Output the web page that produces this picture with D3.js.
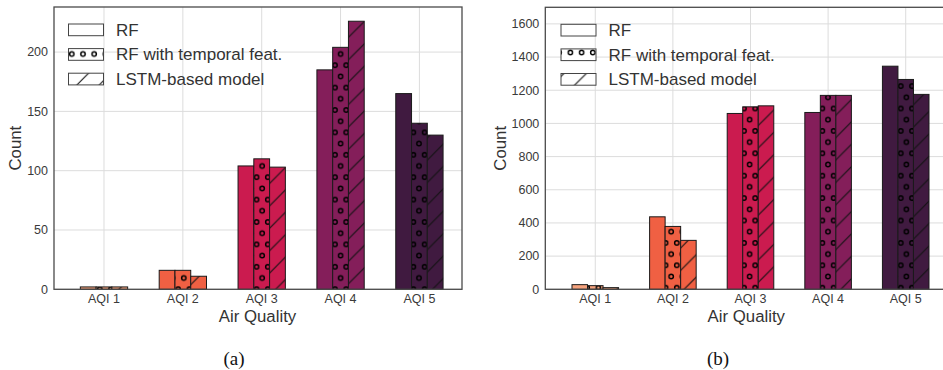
<!DOCTYPE html>
<html>
<head>
<meta charset="utf-8">
<script src="https://cdn.jsdelivr.net/npm/d3@7"></script>
<style>
  html, body { margin: 0; padding: 0; background: #fff; }
  svg { display: block; }
</style>
</head>
<body>
<svg id="chart" width="943" height="370"></svg>
<script>
// ---------------- data ----------------
const categories = ["AQI 1", "AQI 2", "AQI 3", "AQI 4", "AQI 5"];
const seriesNames = ["RF", "RF with temporal feat.", "LSTM-based model"];
const categoryColors = ["#f5a27d", "#f06043", "#cb1b4f", "#841e5a", "#401a40"];

// panel (a)
const aRF       = [2, 16, 104, 185, 165];
const aTemporal = [2, 16, 110, 204, 140];
const aLSTM     = [2, 11, 103, 226, 130];
const aTicks    = [0, 50, 100, 150, 200];

// panel (b)
const bRF       = [28, 437, 1060, 1066, 1345];
const bTemporal = [22, 379, 1100, 1169, 1265];
const bLSTM     = [10, 295, 1106, 1169, 1175];
const bTicks    = [0, 200, 400, 600, 800, 1000, 1200, 1400, 1600];

const xLabel = "Air Quality";
const yLabel = "Count";
const captions = ["(a)", "(b)"];

// ---------------- drawing ----------------
const svg = d3.select("#chart");
const defs = svg.append("defs");
const FONT = "'Liberation Sans', Arial, sans-serif";

function makePatterns(id, dotX, dotY, lineY) {
  const w = 11.2, h = 22.4;
  const dots = defs.append("pattern")
    .attr("id", "dots-" + id).attr("patternUnits", "userSpaceOnUse")
    .attr("x", dotX).attr("y", dotY).attr("width", w).attr("height", h);
  [[0,0],[w,0],[0,h],[w,h],[w/2,h/2]].forEach(([cx, cy]) => {
    dots.append("circle").attr("cx", cx).attr("cy", cy).attr("r", 2.2)
      .attr("fill", "none").attr("stroke", "#000").attr("stroke-width", 1.45);
  });
  const L = 22.4;
  const lines = defs.append("pattern")
    .attr("id", "lines-" + id).attr("patternUnits", "userSpaceOnUse")
    .attr("x", 0).attr("y", lineY).attr("width", L).attr("height", L);
  [[[0, L], [L, 0]], [[-2, 2], [2, -2]], [[L-2, L+2], [L+2, L-2]]].forEach(([p, q]) => {
    lines.append("line").attr("x1", p[0]).attr("y1", p[1]).attr("x2", q[0]).attr("y2", q[1])
      .attr("stroke", "#111").attr("stroke-width", 1.1);
  });
}

function drawPanel(cfg) {
  const g = svg.append("g");
  const x = d3.scaleLinear().domain(cfg.xDomain).range([cfg.left, cfg.right]);
  const y = d3.scaleLinear().domain([0, cfg.yMax]).range([cfg.bottom, cfg.top]);
  const idx = d3.range(categories.length);

  // grid
  const grid = g.append("g");
  grid.selectAll("line.h").data(cfg.ticks).join("line")
    .attr("x1", cfg.left).attr("x2", cfg.right)
    .attr("y1", d => y(d)).attr("y2", d => y(d))
    .attr("stroke", "#dcdcdc").attr("stroke-width", 1);
  grid.selectAll("line.v").data(idx).join("line")
    .attr("x1", d => x(d)).attr("x2", d => x(d))
    .attr("y1", cfg.top).attr("y2", cfg.bottom)
    .attr("stroke", "#dcdcdc").attr("stroke-width", 1);

  // bars
  const series = [cfg.s0, cfg.s1, cfg.s2];
  const patterns = [null, "url(#dots-" + cfg.id + ")", "url(#lines-" + cfg.id + ")"];
  const bw = 0.2;
  series.forEach((vals, si) => {
    const data = vals.map((v, i) => ({ i, v }));
    const bx = d => x(d.i + (si - 1) * bw - bw / 2);
    const bwPx = x(bw) - x(0);
    const gs = g.append("g");
    gs.selectAll("rect.fill").data(data).join("rect")
      .attr("x", bx).attr("y", d => y(d.v))
      .attr("width", bwPx).attr("height", d => y(0) - y(d.v))
      .attr("fill", d => categoryColors[d.i]);
    if (patterns[si]) {
      gs.selectAll("rect.pat").data(data).join("rect")
        .attr("x", bx).attr("y", d => y(d.v))
        .attr("width", bwPx).attr("height", d => y(0) - y(d.v))
        .attr("fill", patterns[si]);
    }
    gs.selectAll("rect.edge").data(data).join("rect")
      .attr("x", bx).attr("y", d => y(d.v))
      .attr("width", bwPx).attr("height", d => y(0) - y(d.v))
      .attr("fill", "none").attr("stroke", "#1a1a1a").attr("stroke-width", 1);
  });

  // frame
  g.append("rect")
    .attr("x", cfg.left).attr("y", cfg.top)
    .attr("width", cfg.right - cfg.left).attr("height", cfg.bottom - cfg.top)
    .attr("fill", "none").attr("stroke", "#4a4a4a").attr("stroke-width", 1.3);

  // y tick labels
  g.selectAll("text.yt").data(cfg.ticks).join("text")
    .attr("x", cfg.left - 6).attr("y", d => y(d)).attr("dy", "0.35em")
    .attr("text-anchor", "end").attr("font-family", FONT).attr("font-size", 12.5)
    .attr("fill", "#3a3a3a").text(d => d);

  // x tick labels
  g.selectAll("text.xt").data(idx).join("text")
    .attr("x", d => x(d)).attr("y", 303.3)
    .attr("text-anchor", "middle").attr("font-family", FONT).attr("font-size", 12.5)
    .attr("fill", "#3a3a3a").text(d => categories[d]);

  // axis labels
  g.append("text").attr("x", cfg.xLabelX).attr("y", 321.5)
    .attr("text-anchor", "middle").attr("font-family", FONT).attr("font-size", 16.8)
    .attr("fill", "#333").text(xLabel);
  g.append("text")
    .attr("transform", `translate(${cfg.yLabelX},${(cfg.top + cfg.bottom) / 2}) rotate(-90)`)
    .attr("text-anchor", "middle").attr("font-family", FONT).attr("font-size", 16.8)
    .attr("fill", "#333").text(yLabel);

  // legend
  const lg = g.append("g");
  seriesNames.forEach((name, si) => {
    const ly = cfg.legendTop + si * 24.6;
    lg.append("rect").attr("x", cfg.legendX).attr("y", ly).attr("width", 35).attr("height", 11.7)
      .attr("fill", "#fff");
    if (patterns[si]) {
      lg.append("rect").attr("x", cfg.legendX).attr("y", ly).attr("width", 35).attr("height", 11.7)
        .attr("fill", patterns[si]);
    }
    lg.append("rect").attr("x", cfg.legendX).attr("y", ly).attr("width", 35).attr("height", 11.7)
      .attr("fill", "none").attr("stroke", "#444").attr("stroke-width", 1);
    lg.append("text").attr("x", cfg.legendX + 47.5).attr("y", ly + 11.7)
      .attr("font-family", FONT).attr("font-size", 17).attr("fill", "#333").text(name);
  });

  // caption
  svg.append("text").attr("x", cfg.captionX).attr("y", 365)
    .attr("text-anchor", "middle").attr("font-family", "'Liberation Serif', 'Times New Roman', serif")
    .attr("font-size", 19).attr("fill", "#111").text(cfg.caption);
}

makePatterns("a", 10.2, 20.4, 5);
makePatterns("b", 4.8, 18.9, 10.2);

drawPanel({
  id: "a", s0: aRF, s1: aTemporal, s2: aLSTM, ticks: aTicks, yMax: 238,
  xDomain: [-0.634, 4.54], left: 54, right: 462, top: 7, bottom: 289.3,
  xLabelX: 257.5, yLabelX: 20.5, legendX: 68.5, legendTop: 24, captionX: 234, caption: captions[0]
});
drawPanel({
  id: "b", s0: bRF, s1: bTemporal, s2: bLSTM, ticks: bTicks, yMax: 1700,
  xDomain: [-0.644, 4.532], left: 545.3, right: 947, top: 7.3, bottom: 289.3,
  xLabelX: 746.3, yLabelX: 506, legendX: 561, legendTop: 24.3, captionX: 718, caption: captions[1]
});
</script>
</body>
</html>
